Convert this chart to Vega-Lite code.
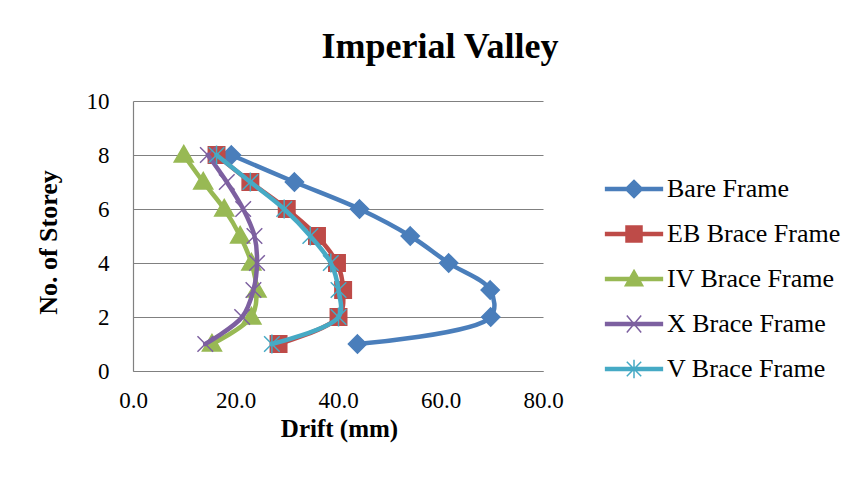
{
  "$schema": "https://vega.github.io/schema/vega-lite/v6.json",
  "autosize": "none",
  "width": 410,
  "height": 270,
  "padding": {"left": 133, "top": 101, "right": 314, "bottom": 116},
  "background": "white",
  "title": {
    "text": "Imperial Valley",
    "font": "Liberation Serif, Times New Roman, serif",
    "fontSize": 36,
    "fontWeight": "bold",
    "color": "black",
    "anchor": "middle",
    "frame": "group",
    "dx": 102,
    "dy": 34,
    "baseline": "alphabetic",
    "offset": 30
  },
  "config": {
    "view": {"stroke": null},
    "font": "Liberation Serif, Times New Roman, serif"
  },
  "data": {
    "values": [
      {"series": "Bare Frame", "storey": 1, "drift": 43.8},
      {"series": "Bare Frame", "storey": 2, "drift": 69.8},
      {"series": "Bare Frame", "storey": 3, "drift": 69.7},
      {"series": "Bare Frame", "storey": 4, "drift": 61.6},
      {"series": "Bare Frame", "storey": 5, "drift": 54.1},
      {"series": "Bare Frame", "storey": 6, "drift": 44.2},
      {"series": "Bare Frame", "storey": 7, "drift": 31.5},
      {"series": "Bare Frame", "storey": 8, "drift": 19.2},
      {"series": "EB Brace Frame", "storey": 1, "drift": 28.4},
      {"series": "EB Brace Frame", "storey": 2, "drift": 40.1},
      {"series": "EB Brace Frame", "storey": 3, "drift": 41.0},
      {"series": "EB Brace Frame", "storey": 4, "drift": 39.8},
      {"series": "EB Brace Frame", "storey": 5, "drift": 35.9},
      {"series": "EB Brace Frame", "storey": 6, "drift": 30.0},
      {"series": "EB Brace Frame", "storey": 7, "drift": 22.9},
      {"series": "EB Brace Frame", "storey": 8, "drift": 16.3},
      {"series": "IV Brace Frame", "storey": 1, "drift": 15.4},
      {"series": "IV Brace Frame", "storey": 2, "drift": 23.1},
      {"series": "IV Brace Frame", "storey": 3, "drift": 24.1},
      {"series": "IV Brace Frame", "storey": 4, "drift": 23.1},
      {"series": "IV Brace Frame", "storey": 5, "drift": 20.9},
      {"series": "IV Brace Frame", "storey": 6, "drift": 17.8},
      {"series": "IV Brace Frame", "storey": 7, "drift": 13.7},
      {"series": "IV Brace Frame", "storey": 8, "drift": 9.9},
      {"series": "X Brace Frame", "storey": 1, "drift": 14.1},
      {"series": "X Brace Frame", "storey": 2, "drift": 21.3},
      {"series": "X Brace Frame", "storey": 3, "drift": 23.5},
      {"series": "X Brace Frame", "storey": 4, "drift": 24.2},
      {"series": "X Brace Frame", "storey": 5, "drift": 23.7},
      {"series": "X Brace Frame", "storey": 6, "drift": 21.5},
      {"series": "X Brace Frame", "storey": 7, "drift": 18.3},
      {"series": "X Brace Frame", "storey": 8, "drift": 14.6},
      {"series": "V Brace Frame", "storey": 1, "drift": 27.1},
      {"series": "V Brace Frame", "storey": 2, "drift": 40.1},
      {"series": "V Brace Frame", "storey": 3, "drift": 40.1},
      {"series": "V Brace Frame", "storey": 4, "drift": 38.6},
      {"series": "V Brace Frame", "storey": 5, "drift": 34.6},
      {"series": "V Brace Frame", "storey": 6, "drift": 29.5},
      {"series": "V Brace Frame", "storey": 7, "drift": 22.9},
      {"series": "V Brace Frame", "storey": 8, "drift": 16.3}
    ]
  },
  "encoding": {
    "x": {
      "field": "drift",
      "type": "quantitative",
      "scale": {"domain": [0, 80], "nice": false, "zero": true},
      "axis": {
        "title": "Drift (mm)",
        "values": [0, 20, 40, 60, 80],
        "format": ".1f",
        "grid": false,
        "ticks": false,
        "tickSize": 0,
        "domainColor": "#808080",
        "domainWidth": 1.2,
        "labelFont": "Liberation Serif, Times New Roman, serif",
        "labelFontSize": 23,
        "labelColor": "black",
        "labelPadding": 18,
        "labelFlush": false,
        "titleFont": "Liberation Serif, Times New Roman, serif",
        "titleFontSize": 25,
        "titleFontWeight": "bold",
        "titleColor": "black",
        "titleBaseline": "alphabetic",
        "titleY": 65,
        "titleX": 206
      }
    },
    "y": {
      "field": "storey",
      "type": "quantitative",
      "scale": {"domain": [0, 10], "nice": false},
      "axis": {
        "title": "No. of Storey",
        "values": [0, 2, 4, 6, 8, 10],
        "format": "d",
        "grid": true,
        "gridColor": "#808080",
        "gridWidth": 1.2,
        "ticks": false,
        "tickSize": 0,
        "domainColor": "#808080",
        "domainWidth": 1.2,
        "labelFont": "Liberation Serif, Times New Roman, serif",
        "labelFontSize": 23,
        "labelColor": "black",
        "labelPadding": 24,
        "labelFlush": false,
        "titleFont": "Liberation Serif, Times New Roman, serif",
        "titleFontSize": 26,
        "titleFontWeight": "bold",
        "titleColor": "black",
        "titleBaseline": "middle",
        "titleX": -85,
        "titleY": 141
      }
    },
    "color": {
      "field": "series",
      "type": "nominal",
      "scale": {
        "domain": ["Bare Frame", "EB Brace Frame", "IV Brace Frame", "X Brace Frame", "V Brace Frame"],
        "range": ["#4A7EBB", "#BE4B48", "#98B954", "#7D60A0", "#46AAC5"]
      },
      "legend": {
        "title": null,
        "orient": "none",
        "legendX": 480,
        "legendY": 67,
        "padding": 0,
        "rowPadding": 11,
        "symbolSize": 1600,
        "symbolStrokeWidth": 1.5,
        "labelOffset": 12,
        "labelFont": "Liberation Serif, Times New Roman, serif",
        "labelFontSize": 26,
        "labelColor": "black",
        "labelLimit": 300,
        "encode": {
          "symbols": {
            "update": {
              "shape": {"signal": "datum.value === 'Bare Frame' ? 'M-1.42,-0.07L1.42,-0.07L1.42,0.07L-1.42,0.07ZM0,-0.44L0.44,0L0,0.44L-0.44,0Z' : datum.value === 'EB Brace Frame' ? 'M-1.42,-0.07L1.42,-0.07L1.42,0.07L-1.42,0.07ZM-0.4,-0.4L0.4,-0.4L0.4,0.4L-0.4,0.4Z' : datum.value === 'IV Brace Frame' ? 'M-1.42,-0.07L1.42,-0.07L1.42,0.07L-1.42,0.07ZM0,-0.44L0.44,0.34L-0.44,0.34Z' : datum.value === 'X Brace Frame' ? 'M-1.42,-0.07L1.42,-0.07L1.42,0.07L-1.42,0.07ZM-0.36,-0.42L0.36,0.42M-0.36,0.42L0.36,-0.42' : 'M-1.42,-0.07L1.42,-0.07L1.42,0.07L-1.42,0.07ZM-0.36,-0.36L0.36,0.36M-0.36,0.36L0.36,-0.36M0,-0.46L0,0.46'"},
              "fill": {"scale": "color", "field": "value"},
              "stroke": {"scale": "color", "field": "value"},
              "strokeWidth": {"value": 1.5},
              "size": {"value": 1600},
              "opacity": {"value": 1}
            }
          }
        }
      }
    },
    "order": {"field": "storey", "type": "quantitative"}
  },
  "layer": [
    {"transform": [{"filter": "datum.series === 'Bare Frame'"}], "mark": {"type": "line", "interpolate": "catmull-rom", "strokeWidth": 4.5, "strokeCap": "round", "strokeJoin": "round"}},
    {"transform": [{"filter": "datum.series === 'Bare Frame'"}], "mark": {"type": "point", "filled": true, "size": 300, "strokeWidth": 1.5, "opacity": 1, "stroke": "#4A7EBB", "shape": "M0,-1.05L1.05,0L0,1.05L-1.05,0Z"}},
    {"transform": [{"filter": "datum.series === 'EB Brace Frame'"}], "mark": {"type": "line", "interpolate": "catmull-rom", "strokeWidth": 4.5, "strokeCap": "round", "strokeJoin": "round"}},
    {"transform": [{"filter": "datum.series === 'EB Brace Frame'"}], "mark": {"type": "point", "filled": true, "size": 300, "strokeWidth": 1.5, "opacity": 1, "stroke": "#BE4B48", "shape": "M-0.95,-0.95L0.95,-0.95L0.95,0.95L-0.95,0.95Z"}},
    {"transform": [{"filter": "datum.series === 'IV Brace Frame'"}], "mark": {"type": "line", "interpolate": "catmull-rom", "strokeWidth": 4.5, "strokeCap": "round", "strokeJoin": "round"}},
    {"transform": [{"filter": "datum.series === 'IV Brace Frame'"}], "mark": {"type": "point", "filled": true, "size": 300, "strokeWidth": 1.5, "opacity": 1, "stroke": "#98B954", "shape": "M0,-1.1L1.1,0.8L-1.1,0.8Z"}},
    {"transform": [{"filter": "datum.series === 'X Brace Frame'"}], "mark": {"type": "line", "interpolate": "catmull-rom", "strokeWidth": 4.5, "strokeCap": "round", "strokeJoin": "round"}},
    {"transform": [{"filter": "datum.series === 'X Brace Frame'"}], "mark": {"type": "point", "filled": true, "size": 300, "strokeWidth": 1.5, "opacity": 1, "stroke": "#7D60A0", "shape": "M-0.9,-0.9L0.9,0.9M-0.9,0.9L0.9,-0.9"}},
    {"transform": [{"filter": "datum.series === 'V Brace Frame'"}], "mark": {"type": "line", "interpolate": "catmull-rom", "strokeWidth": 4.5, "strokeCap": "round", "strokeJoin": "round"}},
    {"transform": [{"filter": "datum.series === 'V Brace Frame'"}], "mark": {"type": "point", "filled": true, "size": 300, "strokeWidth": 1.5, "opacity": 1, "stroke": "#46AAC5", "shape": "M-0.9,-0.9L0.9,0.9M-0.9,0.9L0.9,-0.9M0,-1.1L0,1.1"}}
  ]
}
